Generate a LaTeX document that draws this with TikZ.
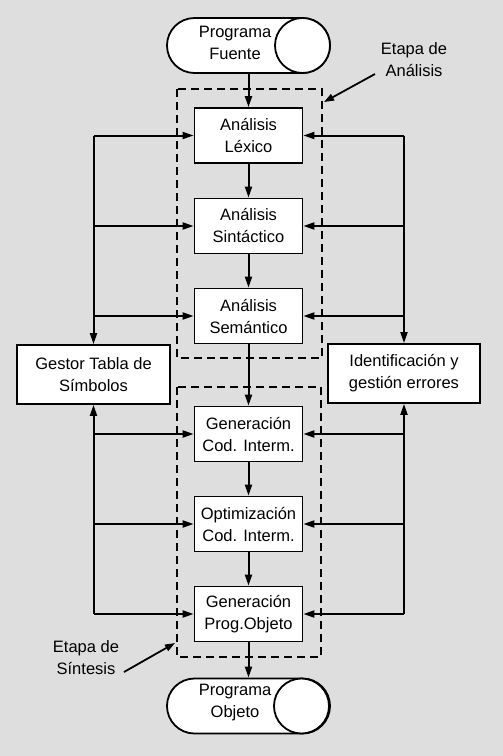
\documentclass[tikz,border=0pt]{standalone}
\usepackage{fontspec}
\setmainfont{Liberation Sans}
\usetikzlibrary{arrows.meta}
\definecolor{bg}{HTML}{DEDEDE}
\begin{document}
\begin{tikzpicture}[x=1pt,y=-1pt,
  txt/.style={font=\fontsize{16.5}{22}\selectfont, align=center, inner sep=0pt},
  proc/.style={txt, draw, fill=white, line width=1.8pt, minimum width=108pt, minimum height=55pt},
  side/.style={txt, draw, fill=white, line width=1.8pt, minimum width=153pt, minimum height=59pt},
  capsule/.style={draw, fill=white, line width=1.8pt, minimum width=163pt, minimum height=55pt, rounded corners=27.5pt, inner sep=0pt},
  endcirc/.style={draw, fill=white, circle, line width=1.8pt, minimum size=55pt, inner sep=0pt},
  arr/.style={line width=2pt, -{Triangle[length=11pt,width=7pt]}},
  thinarr/.style={line width=1.8pt, -{Triangle[length=10pt,width=7pt]}},
  stage/.style={draw, dash pattern=on 8pt off 5pt, line width=1.5pt},
]
\fill[bg] (0,0) rectangle (503,756);
\useasboundingbox (0,0) rectangle (503,756);

% dashed stage boxes
\draw[stage] (177,89) rectangle (322,358);
\draw[stage] (177,387) rectangle (321,657);

% capsules
\node[capsule] (pf) at (248.5,45.5) {};
\node[endcirc] (pfc) at (302.5,45.5) {};
\node[txt] (pft) at (235,43) {Programa\\Fuente};

\node[capsule] (po) at (248.5,706) {};
\node[endcirc] (poc) at (301.5,706) {};
\node[txt] (pot) at (235,703) {Programa\\Objeto};

% process boxes
\node[proc] (lex) at (248.5,135.5) {Análisis\\Léxico};
\node[proc] (sin) at (248.5,226) {Análisis\\Sintáctico};
\node[proc] (sem) at (248.5,316) {Análisis\\Semántico};
\node[proc] (gci) at (248.5,434) {Generación\\Cod. Interm.};
\node[proc] (opt) at (248.5,524) {Optimización\\Cod. Interm.};
\node[proc] (gpo) at (248.5,614) {Generación\\Prog.Objeto};

% side boxes
\node[side] (gts) at (93.5,374.5) {Gestor Tabla de\\Símbolos};
\node[side, minimum width=152pt] (ige) at (404,373.5) {Identificación y\\gestión errores};

% main flow
\draw[arr] (pf.south -| lex.north) -- (lex.north);
\draw[arr] (lex) -- (sin);
\draw[arr] (sin) -- (sem);
\draw[arr] (sem) -- (gci);
\draw[arr] (gci) -- (opt);
\draw[arr] (opt) -- (gpo);
\draw[arr] (gpo.south) -- (gpo.south |- po.north);

% symbol table connections
\draw[arr] (gts.north |- lex.west) -- (gts.north);
\draw[arr] (gts.north |- lex.west) -- (lex.west);
\draw[arr] (gts.north |- sin.west) -- (sin.west);
\draw[arr] (gts.north |- sem.west) -- (sem.west);
\draw[arr] (gts.south |- gpo.west) -- (gts.south);
\draw[arr] (gts.south |- gci.west) -- (gci.west);
\draw[arr] (gts.south |- opt.west) -- (opt.west);
\draw[arr] (gts.south |- gpo.west) -- (gpo.west);

% error handling connections
\draw[arr] (ige.north |- lex.east) -- (ige.north);
\draw[arr] (ige.north |- lex.east) -- (lex.east);
\draw[arr] (ige.north |- sin.east) -- (sin.east);
\draw[arr] (ige.north |- sem.east) -- (sem.east);
\draw[arr] (ige.south |- gpo.east) -- (ige.south);
\draw[arr] (ige.south |- gci.east) -- (gci.east);
\draw[arr] (ige.south |- opt.east) -- (opt.east);
\draw[arr] (ige.south |- gpo.east) -- (gpo.east);

% stage labels
\node[txt] (ean) at (414,60) {Etapa de\\Análisis};
\coordinate (ea1) at (375,74);
\coordinate (ea2) at (324,102);
\draw[thinarr] (ea1) -- (ea2);

\node[txt] (esi) at (86,658) {Etapa de\\Síntesis};
\coordinate (es1) at (124,672);
\coordinate (es2) at (175,643);
\draw[thinarr] (es1) -- (es2);
\end{tikzpicture}
\end{document}
